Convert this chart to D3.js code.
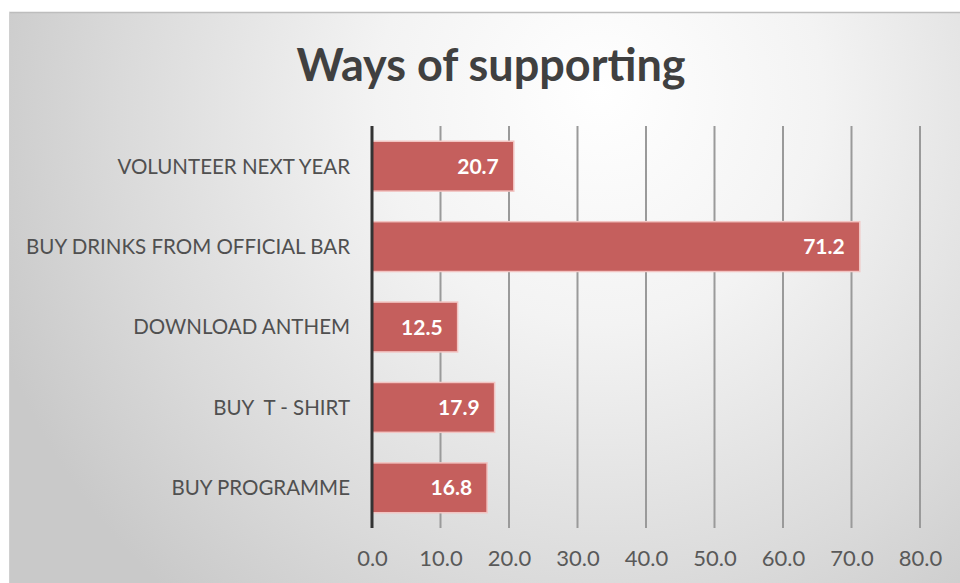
<!DOCTYPE html>
<html>
<head>
<meta charset="utf-8">
<script src="https://cdn.jsdelivr.net/npm/d3@7"></script>
<style>
  html, body { margin: 0; padding: 0; background: #ffffff; }
  svg { display: block; }
</style>
</head>
<body>
<svg id="chart" width="960" height="583"></svg>
<script>
// Survey results: ways of supporting
const categories = [
  "VOLUNTEER NEXT YEAR",
  "BUY DRINKS FROM OFFICIAL BAR",
  "DOWNLOAD ANTHEM",
  "BUY  T - SHIRT",
  "BUY PROGRAMME"
];
const values = [20.7, 71.2, 12.5, 17.9, 16.8];
const tickValues = [0, 10, 20, 30, 40, 50, 60, 70, 80];
const title = "Ways of supporting";

const W = 960, H = 583;
const svg = d3.select("#chart");
const defs = svg.append("defs");

// Panel background: soft radial light from the top centre
const bg = defs.append("radialGradient")
  .attr("id", "panelBg")
  .attr("gradientUnits", "userSpaceOnUse")
  .attr("cx", 600).attr("cy", 120).attr("r", 640)
  .attr("fx", 600).attr("fy", 90);
bg.append("stop").attr("offset", "0%").attr("stop-color", "#ffffff");
bg.append("stop").attr("offset", "35%").attr("stop-color", "#f3f3f3");
bg.append("stop").attr("offset", "75%").attr("stop-color", "#dadada");
bg.append("stop").attr("offset", "100%").attr("stop-color", "#c9c9c9");

const panel = { x: 9, y: 12, w: W - 9, h: H - 12 };
svg.append("rect")
  .attr("x", panel.x).attr("y", panel.y)
  .attr("width", panel.w).attr("height", panel.h)
  .attr("fill", "url(#panelBg)");
svg.append("line")
  .attr("x1", panel.x).attr("x2", W)
  .attr("y1", panel.y + 0.5).attr("y2", panel.y + 0.5)
  .attr("stroke", "#bdbdbd").attr("stroke-width", 1.5);
svg.append("line")
  .attr("x1", panel.x + 0.5).attr("x2", panel.x + 0.5)
  .attr("y1", panel.y).attr("y2", H)
  .attr("stroke", "#d0d0d0").attr("stroke-width", 1);

const fontFamily = "Lato, 'Open Sans', 'DejaVu Sans', sans-serif";

// Title
svg.append("text")
  .attr("x", 491).attr("y", 81)
  .attr("text-anchor", "middle")
  .attr("font-family", fontFamily)
  .attr("font-weight", 700)
  .attr("font-size", 45)
  .attr("fill", "#404040")
  .text(title);

// Plot area
const plot = { left: 372, right: 920, top: 126, bottom: 528 };

const x = d3.scaleLinear()
  .domain([0, 80])
  .range([plot.left, plot.right]);

const y = d3.scaleBand()
  .domain(categories)
  .range([plot.top, plot.bottom])
  .paddingInner(0.38)
  .paddingOuter(0.19);

// Vertical gridlines
svg.append("g")
  .selectAll("line")
  .data(tickValues.filter(d => d > 0))
  .join("line")
  .attr("x1", d => x(d)).attr("x2", d => x(d))
  .attr("y1", plot.top).attr("y2", plot.bottom)
  .attr("stroke", "#9a9a9a")
  .attr("stroke-width", 2);

// Bars
svg.append("g")
  .selectAll("rect")
  .data(values)
  .join("rect")
  .attr("x", x(0))
  .attr("y", (d, i) => y(categories[i]))
  .attr("width", d => x(d) - x(0))
  .attr("height", y.bandwidth())
  .attr("fill", "#c55f5d")
  .attr("stroke", "#f2c4c2")
  .attr("stroke-width", 1.5);

// Value labels inside bar ends
svg.append("g")
  .selectAll("text")
  .data(values)
  .join("text")
  .attr("x", d => x(d) - 15)
  .attr("y", (d, i) => y(categories[i]) + y.bandwidth() / 2)
  .attr("dy", "0.36em")
  .attr("text-anchor", "end")
  .attr("font-family", fontFamily)
  .attr("font-weight", 700)
  .attr("font-size", 21)
  .attr("fill", "#ffffff")
  .text(d => d.toFixed(1));

// Category axis line
svg.append("line")
  .attr("x1", x(0)).attr("x2", x(0))
  .attr("y1", plot.top).attr("y2", plot.bottom)
  .attr("stroke", "#333333")
  .attr("stroke-width", 3);

// Category labels
svg.append("g")
  .selectAll("text")
  .data(categories)
  .join("text")
  .attr("x", 350)
  .attr("y", d => y(d) + y.bandwidth() / 2)
  .attr("dy", "0.36em")
  .attr("text-anchor", "end")
  .attr("font-family", fontFamily)
  .attr("font-size", 20.5)
  .attr("fill", "#505050")
  .attr("xml:space", "preserve")
  .style("white-space", "pre")
  .text(d => d);

// Value axis labels
const axis = d3.axisBottom(x)
  .tickValues(tickValues)
  .tickFormat(d3.format(".1f"))
  .tickSize(0)
  .tickPadding(0);
const axisG = svg.append("g")
  .attr("transform", `translate(0, ${plot.bottom + 22})`)
  .call(axis);
axisG.select(".domain").remove();
axisG.selectAll("text")
  .attr("font-family", fontFamily)
  .attr("font-size", 22)
  .attr("fill", "#595959");
</script>
</body>
</html>
